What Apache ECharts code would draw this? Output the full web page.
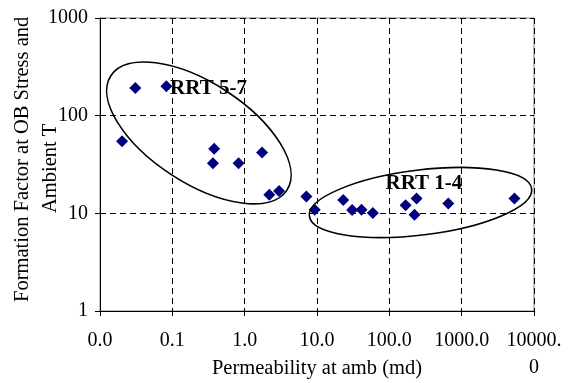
<!DOCTYPE html>
<html>
<head>
<meta charset="utf-8">
<script src="https://cdn.jsdelivr.net/npm/echarts@6/dist/echarts.min.js"></script>
<style>
  html, body { margin: 0; padding: 0; background: #fff; }
  #chart { width: 574px; height: 383px; }
</style>
</head>
<body>
<div id="chart"></div>
<script>
// Permeability (md) and formation factor for each core sample
const permeability = [0.0202, 0.0308, 0.0828, 0.379, 0.364, 0.824, 1.74, 2.19, 2.99, 7.13,
                      9.3, 23.0, 30.6, 41.2, 59.1, 168, 238, 223, 654, 5370];
const formationFactor = [54.8, 192, 200, 45.8, 32.6, 32.6, 42, 15.5, 16.9, 14.9,
                         10.9, 13.7, 10.8, 10.9, 10.1, 12.1, 14.2, 9.7, 12.6, 14.2];

// Axis tick labels, one per decade
const xTickLabels = ['0.0', '0.1', '1.0', '10.0', '100.0', '1000.0', '10000.\n0'];
const yTickLabels = ['1', '10', '100', '1000'];

// Rock-type group outlines: label text, label anchor and ellipse centre in data units
const groupNames = ['RRT 5-7', 'RRT 1-4'];
const groupLabelAt = [[0.093, 191], [88.5, 20.0]];
const groupCentre = [[0.233, 66.6], [270, 12.9]];

const FONT = "'Liberation Serif', 'Times New Roman', serif";

const points = permeability.map((k, i) => [k, formationFactor[i]]);

const chart = echarts.init(document.getElementById('chart'), null, { renderer: 'canvas' });

chart.setOption({
  animation: false,
  backgroundColor: '#fff',
  grid: {
    left: 100, top: 18, right: 40, bottom: 72,
    outerBoundsMode: 'none', containLabel: false,
    show: true, borderColor: '#808080', borderWidth: 1, backgroundColor: 'transparent'
  },
  xAxis: {
    type: 'log', logBase: 10, min: 0.01, max: 10000,
    name: 'Permeability at amb (md)',
    nameLocation: 'middle', nameGap: 58, nameMoveOverlap: false,
    nameTextStyle: { fontFamily: FONT, fontSize: 20.5, color: '#000', verticalAlign: 'middle' },
    axisLine: { show: true, onZero: false, lineStyle: { color: '#000', width: 1 } },
    axisTick: { show: true, length: 5, lineStyle: { color: '#000' } },
    minorTick: { show: false },
    axisLabel: {
      margin: 16, fontFamily: FONT, fontSize: 20, color: '#000', lineHeight: 27,
      formatter: (v, i) => xTickLabels[i]
    },
    splitLine: { show: true, lineStyle: { color: '#000', type: [6, 4], width: 1 } }
  },
  yAxis: {
    type: 'log', logBase: 10, min: 1, max: 1000,
    axisLine: { show: true, onZero: false, lineStyle: { color: '#000', width: 1 } },
    axisTick: { show: true, length: 5, lineStyle: { color: '#000' } },
    axisLabel: {
      margin: 12, fontFamily: FONT, fontSize: 20, color: '#000',
      backgroundColor: '#fff', padding: [1, 0, 1, 2],
      formatter: (v, i) => yTickLabels[i]
    },
    splitLine: { show: true, lineStyle: { color: '#000', type: [6, 4], width: 1 } }
  },
  series: [{
    type: 'scatter',
    data: points,
    symbol: 'diamond',
    symbolSize: 12,
    itemStyle: { color: '#000080', opacity: 1 },
    z: 5
  }]
});

// Outlines and labels for the two rock-type groups, placed through the axis scales
const c1 = chart.convertToPixel({ gridIndex: 0 }, groupCentre[0]);
const c2 = chart.convertToPixel({ gridIndex: 0 }, groupCentre[1]);
const l1 = chart.convertToPixel({ gridIndex: 0 }, groupLabelAt[0]);
const l2 = chart.convertToPixel({ gridIndex: 0 }, groupLabelAt[1]);

const labelStyle = {
  fill: '#000', font: "bold 21px " + FONT,
  textAlign: 'left', textVerticalAlign: 'middle'
};

chart.setOption({
  graphic: [
    {
      type: 'ellipse', x: c1[0], y: c1[1], rotation: -33 * Math.PI / 180,
      shape: { cx: 0, cy: 0, rx: 105, ry: 50 },
      style: { fill: 'none', stroke: '#000', lineWidth: 1.6 }, z: 6
    },
    {
      type: 'ellipse', x: c2[0], y: c2[1], rotation: 7 * Math.PI / 180,
      shape: { cx: 0, cy: 0, rx: 112, ry: 32.5 },
      style: { fill: 'none', stroke: '#000', lineWidth: 1.6 }, z: 6
    },
    { type: 'text', x: l1[0], y: l1[1], style: Object.assign({ text: groupNames[0] }, labelStyle), z: 7 },
    { type: 'text', x: l2[0], y: l2[1], style: Object.assign({ text: groupNames[1] }, labelStyle), z: 7 },
    // Vertical axis title, two lines reading upwards
    {
      type: 'text', x: 23, y: 302, rotation: Math.PI / 2, z: -1,
      style: {
        text: 'Formation Factor at OB Stress and', fill: '#000',
        font: "20.5px " + FONT, textAlign: 'left', textVerticalAlign: 'middle'
      }
    },
    {
      type: 'text', x: 51, y: 213, rotation: Math.PI / 2, z: -1,
      style: {
        text: 'Ambient T', fill: '#000',
        font: "20.5px " + FONT, textAlign: 'left', textVerticalAlign: 'middle'
      }
    },
    // Trim the title above the plot's top edge
    {
      type: 'rect', x: 0, y: 0, z: 8,
      shape: { x: 0, y: 0, width: 40, height: 17 },
      style: { fill: '#fff' }
    }
  ]
});
</script>
</body>
</html>
